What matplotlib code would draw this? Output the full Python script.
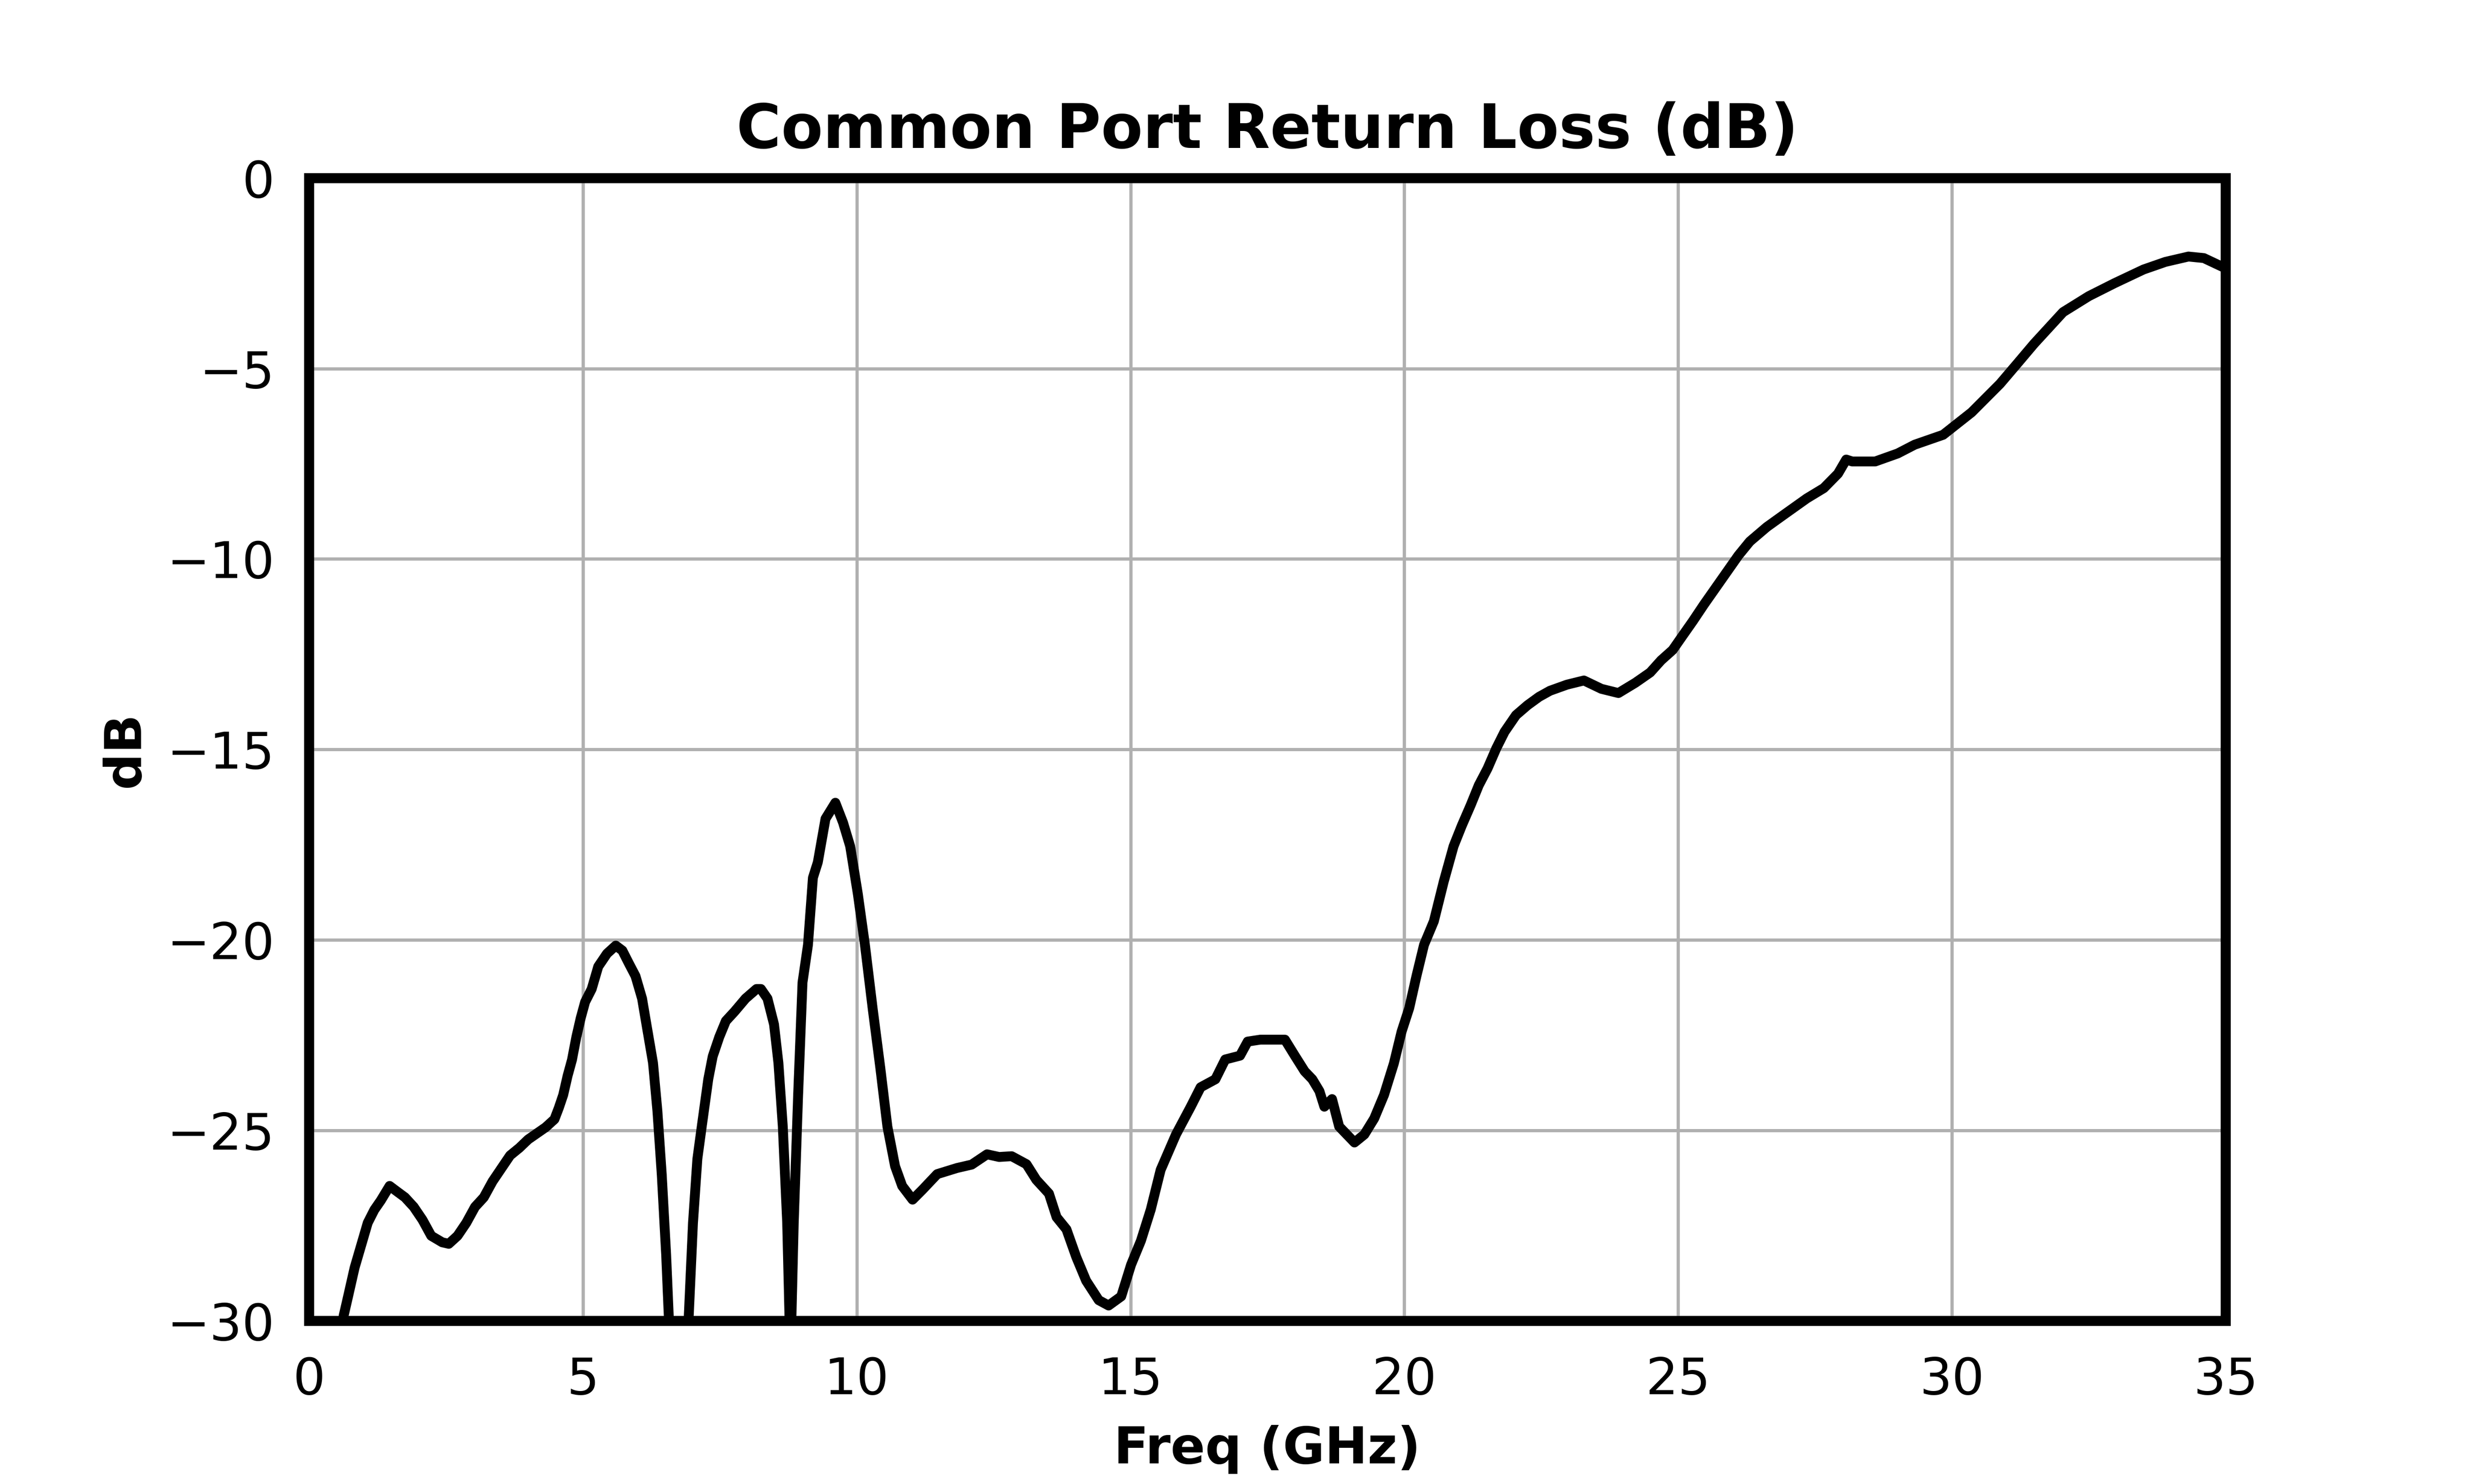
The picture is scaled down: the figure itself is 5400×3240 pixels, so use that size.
import matplotlib

matplotlib.use("Agg")
import matplotlib.pyplot as plt
import numpy as np

# Frequency (GHz) and return loss (dB)
freq_ghz = [
    0.30, 0.63, 0.71, 0.83, 0.95, 1.07, 1.19, 1.31, 1.47, 1.59, 1.75, 1.91, 2.07, 2.23, 2.43, 2.55,
    2.71, 2.87, 3.03, 3.19, 3.35, 3.51, 3.67, 3.84, 4.00, 4.16, 4.32, 4.48, 4.56, 4.64, 4.72, 4.80,
    4.88, 4.96, 5.04, 5.16, 5.28, 5.44, 5.60, 5.72, 5.84, 5.96, 6.08, 6.16, 6.28, 6.36, 6.44, 6.52,
    6.57, 6.75, 6.93, 7.01, 7.09, 7.17, 7.29, 7.37, 7.49, 7.61, 7.77, 7.97, 8.17, 8.25, 8.37, 8.49,
    8.57, 8.65, 8.73, 8.79, 8.85, 8.93, 9.01, 9.11, 9.20, 9.29, 9.43, 9.61, 9.75, 9.88, 10.02, 10.15,
    10.29, 10.43, 10.56, 10.70, 10.83, 11.02, 11.20, 11.47, 11.83, 12.10, 12.38, 12.60, 12.83, 13.10,
    13.28, 13.51, 13.65, 13.83, 14.01, 14.19, 14.42, 14.60, 14.83, 15.01, 15.19, 15.37, 15.55, 15.83,
    16.10, 16.28, 16.55, 16.73, 17.00, 17.14, 17.37, 17.64, 17.82, 18.00, 18.18, 18.32, 18.45, 18.54,
    18.68, 18.81, 19.09, 19.27, 19.45, 19.63, 19.81, 19.95, 20.09, 20.22, 20.36, 20.54, 20.72, 20.90,
    21.05, 21.21, 21.36, 21.52, 21.68, 21.83, 22.04, 22.25, 22.46, 22.66, 22.97, 23.28, 23.60, 23.91,
    24.22, 24.49, 24.69, 24.90, 25.06, 25.27, 25.47, 25.68, 25.89, 26.10, 26.31, 26.62, 26.93, 27.35,
    27.66, 27.92, 28.07, 28.18, 28.60, 29.01, 29.32, 29.84, 30.36, 30.88, 31.20, 31.50, 32.03, 32.50,
    32.97, 33.50, 33.90, 34.32, 34.60, 34.94,
]
return_loss_db = [
    -35.0, -29.87, -29.37, -28.61, -28.02, -27.43, -27.09, -26.84, -26.46, -26.59, -26.76, -27.01, -27.35, -27.77, -27.94, -27.98,
    -27.77, -27.43, -27.01, -26.76, -26.34, -26.00, -25.66, -25.46, -25.24, -25.08, -24.92, -24.71, -24.41, -24.07, -23.57, -23.15,
    -22.55, -22.05, -21.63, -21.29, -20.70, -20.36, -20.15, -20.28, -20.62, -20.95, -21.54, -22.22, -23.23, -24.49, -26.17, -28.27,
    -29.96, -36.00, -29.96, -27.43, -25.75, -24.90, -23.65, -23.06, -22.55, -22.13, -21.88, -21.54, -21.29, -21.29, -21.54, -22.22,
    -23.23, -24.90, -27.43, -31.00, -27.43, -24.07, -21.12, -20.13, -18.37, -17.96, -16.82, -16.40, -16.92, -17.54, -18.79, -20.13,
    -21.79, -23.35, -24.90, -25.94, -26.46, -26.82, -26.56, -26.15, -25.99, -25.90, -25.63, -25.70, -25.68, -25.89,
    -26.30, -26.66, -27.28, -27.60, -28.33, -28.95, -29.46, -29.60, -29.36, -28.53, -27.90, -27.08, -26.04, -25.11,
    -24.38, -23.87, -23.66, -23.14, -23.04, -22.67, -22.62, -22.62, -22.62, -23.04, -23.45, -23.66, -23.97, -24.38,
    -24.18, -24.90, -25.32, -25.11, -24.69, -24.07, -23.24, -22.41, -21.79, -20.96, -20.13, -19.51, -18.47, -17.54,
    -17.00, -16.47, -15.94, -15.50, -14.97, -14.54, -14.10, -13.84, -13.62, -13.46, -13.30, -13.19, -13.41, -13.52,
    -13.25, -12.98, -12.66, -12.39, -12.06, -11.63, -11.20, -10.77, -10.34, -9.91, -9.54, -9.16, -8.84, -8.41,
    -8.14, -7.76, -7.39, -7.44, -7.44, -7.23, -7.00, -6.74, -6.15, -5.40, -4.86, -4.35, -3.52, -3.10,
    -2.76, -2.40, -2.20, -2.06, -2.10, -2.33,
]

x_ticks = [0, 5, 10, 15, 20, 25, 30, 35]
y_ticks = [0, -5, -10, -15, -20, -25, -30]


def main() -> None:
    fig = plt.figure(figsize=(15, 9), dpi=360)
    ax = fig.add_axes([0.125, 0.110, 0.775, 0.770])

    ax.plot(freq_ghz, return_loss_db, color="black", lw=4.3, solid_joinstyle="round")

    ax.set_xlim(0, 35)
    ax.set_ylim(-30, 0)
    ax.set_xticks(x_ticks)
    ax.set_yticks(y_ticks)
    ax.grid(True, color="#b0b0b0", lw=1.4)
    ax.set_axisbelow(True)
    ax.tick_params(axis="both", length=0, pad=15.2, labelsize=22.3)
    for spine in ax.spines.values():
        spine.set_linewidth(4.4)
        spine.set_color("black")

    ax.set_title("Common Port Return Loss (dB)", fontsize=26.6, fontweight="bold", pad=13.2)
    ax.set_xlabel("Freq (GHz)", fontsize=22.3, fontweight="bold", labelpad=8.8)
    ax.set_ylabel("dB", fontsize=22.3, fontweight="bold", labelpad=7.5)

    fig.savefig("out.png", dpi=360)
    plt.close(fig)


if __name__ == "__main__":
    main()
